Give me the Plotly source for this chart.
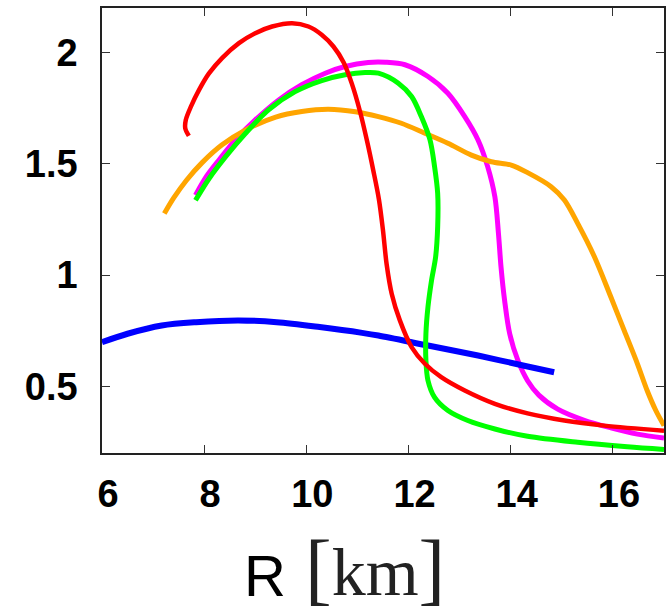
import plotly.graph_objects as go

# ---- data (R [km], M) ----
red_x = [7.70, 7.63, 7.64, 7.74, 7.90, 8.09, 8.35, 8.68, 9.00, 9.33, 9.72, 10.04, 10.30, 10.53,
         10.73, 10.89, 11.05, 11.19, 11.31, 11.42, 11.50, 11.57, 11.67, 11.83, 12.06, 12.32,
         12.64, 13.10, 13.69, 14.33, 15.05, 15.83, 17.0]
red_y = [1.625, 1.659, 1.697, 1.757, 1.832, 1.905, 1.975, 2.042, 2.087, 2.117, 2.132, 2.117,
         2.080, 2.027, 1.955, 1.860, 1.735, 1.600, 1.470, 1.340, 1.200, 1.050, 0.916, 0.796,
         0.676, 0.601, 0.541, 0.481, 0.421, 0.378, 0.346, 0.323, 0.300]

magenta_x = [7.83, 8.05, 8.29, 8.61, 9.00, 9.46, 9.91, 10.37, 10.76, 11.21, 11.55, 11.93,
             12.38, 12.77, 13.10, 13.36, 13.55, 13.69, 13.76, 13.81, 13.88, 13.98, 14.14,
             14.33, 14.55, 14.92, 15.44, 15.96, 16.48, 17.0]
magenta_y = [1.359, 1.445, 1.517, 1.607, 1.697, 1.787, 1.855, 1.907, 1.937, 1.955, 1.956, 1.945,
             1.892, 1.817, 1.712, 1.607, 1.486, 1.351, 1.186, 1.036, 0.886, 0.736, 0.616,
             0.525, 0.460, 0.397, 0.347, 0.313, 0.285, 0.267]

green_x = [7.83, 8.10, 8.42, 8.81, 9.26, 9.78, 10.30, 10.76, 11.15, 11.41, 11.80, 12.06,
           12.25, 12.42, 12.51, 12.57, 12.57, 12.53, 12.45, 12.38, 12.34, 12.34, 12.38,
           12.51, 12.77, 13.16, 13.69, 14.33, 15.31, 16.28, 17.0]
green_y = [1.336, 1.435, 1.532, 1.637, 1.742, 1.824, 1.874, 1.900, 1.910, 1.907, 1.862, 1.802,
           1.712, 1.607, 1.486, 1.367, 1.216, 1.081, 0.976, 0.856, 0.736, 0.616, 0.526,
           0.450, 0.391, 0.346, 0.308, 0.275, 0.248, 0.228, 0.216]

orange_x = [7.22, 7.40, 7.65, 7.96, 8.35, 8.81, 9.40, 9.91, 10.43, 10.96, 11.41, 11.86, 12.32,
            12.77, 13.23, 13.62, 14.01, 14.33, 14.79, 15.05, 15.31, 15.64, 15.96, 16.22,
            16.48, 16.67, 16.84, 17.0]
orange_y = [1.276, 1.345, 1.425, 1.505, 1.585, 1.652, 1.710, 1.735, 1.745, 1.734, 1.712, 1.682,
            1.637, 1.592, 1.539, 1.509, 1.494, 1.460, 1.397, 1.337, 1.232, 1.081, 0.901,
            0.751, 0.601, 0.481, 0.391, 0.323]

blue_x = [6.0, 6.50, 7.17, 7.84, 8.67, 9.42, 10.26, 11.09, 11.41, 12.38, 13.36, 14.33, 14.85]
blue_y = [0.698, 0.736, 0.773, 0.788, 0.796, 0.788, 0.766, 0.740, 0.728, 0.683, 0.638,
          0.589, 0.563]

x_ticks = [6, 8, 10, 12, 14, 16]
y_ticks = [0.5, 1, 1.5, 2]

fig = go.Figure()
series = [
    (magenta_x, magenta_y, "#ff00ff", 5),
    (orange_x, orange_y, "#ffa500", 5),
    (blue_x, blue_y, "#0000ff", 6),
    (green_x, green_y, "#00ff00", 5),
    (red_x, red_y, "#ff0000", 4.5),
]
for xs, ys, col, w in series:
    fig.add_trace(go.Scatter(x=xs, y=ys, mode="lines",
                             line=dict(color=col, width=w, shape="spline", smoothing=0.9),
                             showlegend=False, hoverinfo="skip"))

tickfont = dict(family="Liberation Sans", size=38, color="black", weight="bold")
axis_common = dict(showgrid=False, zeroline=False, showline=True, linecolor="#222222",
                   linewidth=1.5, mirror="ticks", ticks="inside", ticklen=8, tickwidth=1.2,
                   tickcolor="#333333", tickfont=tickfont)

fig.update_xaxes(range=[6, 17], tickvals=x_ticks, ticktext=[str(v) for v in x_ticks],
                 ticklabelstandoff=7, ticklabelshift=6, **axis_common)
fig.update_yaxes(range=[0.2, 2.2], tickvals=y_ticks, ticktext=["0.5", "1", "1.5", "2"],
                 ticklabelstandoff=15, **axis_common)

W, H = 670, 610
L, R, T, B = 102, 4, 8, 157
pw, ph = W - L - R, H - T - B


def px(X):
    return (X - L) / pw


def py(Y):
    return (H - B - Y) / ph


fig.add_annotation(text="R", x=px(266), y=py(575), xref="paper", yref="paper",
                   showarrow=False, xanchor="center", yanchor="middle",
                   font=dict(family="Liberation Sans", size=58, color="black"))
fig.add_annotation(text="[<span style='font-size:68px'>km</span>]",
                   x=px(376), y=py(568), xref="paper", yref="paper",
                   showarrow=False, xanchor="center", yanchor="middle",
                   font=dict(family="Liberation Serif", size=80, color="#222222"))

fig.update_layout(width=W, height=H, margin=dict(l=L, r=R, t=T, b=B),
                  paper_bgcolor="white", plot_bgcolor="white")

fig.write_html("out.html")
